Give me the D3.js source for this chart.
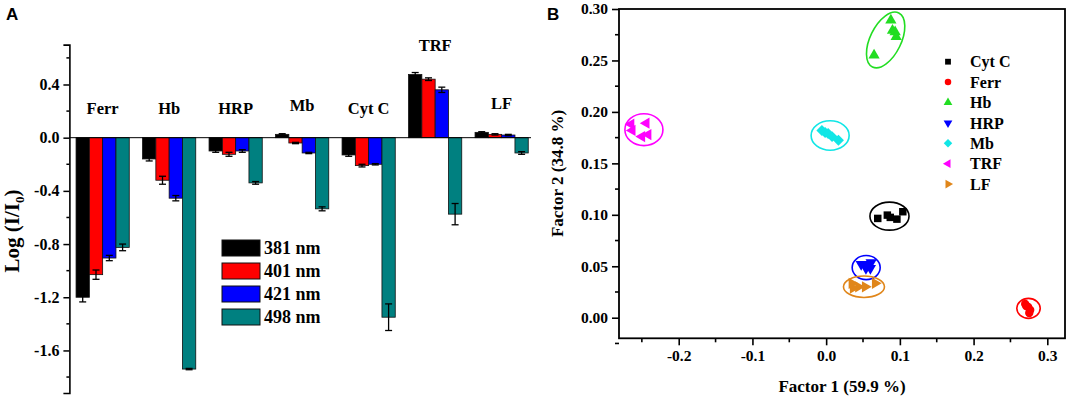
<!DOCTYPE html>
<html>
<head>
<meta charset="utf-8">
<script src="https://cdn.jsdelivr.net/npm/d3@7/dist/d3.min.js"></script>
<style>
html,body{margin:0;padding:0;background:#fff;}
svg{display:block;}
.serif{font-family:"Liberation Serif","Times New Roman",serif;font-weight:bold;}
</style>
</head>
<body>
<svg id="chart" width="1067" height="396"></svg>
<script>
// ---------- Panel A data ----------
const proteins = ["Ferr", "Hb", "HRP", "Mb", "Cyt C", "TRF", "LF"];
const wavelengths = ["381 nm", "401 nm", "421 nm", "498 nm"];
const barColors = ["#000000", "#ff0000", "#0000ff", "#008080"];
const val381 = [-1.20, -0.16, -0.10, 0.025, -0.13, 0.475, 0.04];
const val401 = [-1.03, -0.32, -0.125, -0.04, -0.21, 0.44, 0.025];
const val421 = [-0.905, -0.455, -0.10, -0.115, -0.20, 0.36, 0.02];
const val498 = [-0.825, -1.74, -0.34, -0.535, -1.35, -0.575, -0.115];
const err381 = [0.035, 0.015, 0.01, 0.005, 0.01, 0.015, 0.005];
const err401 = [0.035, 0.03, 0.015, 0.005, 0.01, 0.01, 0.005];
const err421 = [0.02, 0.02, 0.01, 0.005, 0.005, 0.02, 0.005];
const err498 = [0.025, 0.005, 0.01, 0.015, 0.10, 0.08, 0.01];
const yTicksA = [-1.6, -1.2, -0.8, -0.4, 0.0, 0.4];

// ---------- Panel B data ----------
const groupsB = ["Cyt C", "Ferr", "Hb", "HRP", "Mb", "TRF", "LF"];
const colorsB = ["#000000", "#ff0000", "#22dd22", "#0000ff", "#11e6e6", "#ff00ff", "#e0861a"];
const factor1 = {
  "Cyt C": [0.070, 0.083, 0.087, 0.096, 0.104],
  "Ferr":  [0.270, 0.274, 0.2768, 0.2755, 0.2714],
  "Hb":    [0.0878, 0.090, 0.0936, 0.095, 0.065],
  "HRP":   [0.0475, 0.054, 0.061, 0.054, 0.060],
  "Mb":    [-0.0058, -0.0014, 0.0027, 0.008, 0.0167],
  "TRF":   [-0.2646, -0.263, -0.244, -0.250, -0.2415],
  "LF":    [0.0349, 0.0438, 0.053, 0.0665, 0.0366]
};
const factor2 = {
  "Cyt C": [0.0965, 0.0997, 0.0975, 0.0958, 0.103],
  "Ferr":  [0.0133, 0.0104, 0.0075, 0.0046, 0.0114],
  "Hb":    [0.289, 0.279, 0.2777, 0.273, 0.255],
  "HRP":   [0.052, 0.052, 0.0536, 0.048, 0.048],
  "Mb":    [0.182, 0.180, 0.179, 0.176, 0.1725],
  "TRF":   [0.188, 0.182, 0.189, 0.176, 0.178],
  "LF":    [0.0334, 0.030, 0.030, 0.0334, 0.0288]
};
// confidence ellipses: centre (data), semi-axes (data units along x / y), rotation (deg)
const ellCx  = [0.0859, 0.2745, 0.0807, 0.0543, 0.0054, -0.2472, 0.0513];
const ellCy  = [0.0987, 0.0091, 0.2699, 0.0487, 0.1771, 0.1827, 0.0301];
const ellRx  = [0.0265, 0.0159, 0.021, 0.019, 0.0258, 0.0258, 0.0278];
const ellRy  = [0.0136, 0.0097, 0.0292, 0.0117, 0.0143, 0.0155, 0.0104];
const ellRot = [0, 0, 26, 0, 0, 0, 0];
const xTicksB = [-0.2, -0.1, 0.0, 0.1, 0.2, 0.3];
const yTicksB = [0.00, 0.05, 0.10, 0.15, 0.20, 0.25, 0.30];

const svg = d3.select("#chart");
const hyph = f => d => f(d).replace("\u2212", "-");

// ===================== Panel A =====================
const seriesVals = [val381, val401, val421, val498];
const seriesErrs = [err381, err401, err421, err498];

const xA = d3.scaleBand().domain(proteins).range([69.4, 534.9]).paddingInner(0.2).paddingOuter(0.1);
const xSub = d3.scaleBand().domain(wavelengths).range([0, xA.bandwidth()]);
const yA = d3.scaleLinear().domain([-1.92, 0.7]).range([393, 44.6]);

const gA = svg.append("g");

const barData = [];
proteins.forEach((p, i) => {
  wavelengths.forEach((w, j) => {
    barData.push({p, w, j, v: seriesVals[j][i], e: seriesErrs[j][i]});
  });
});
gA.selectAll("rect.bar").data(barData).join("rect")
  .attr("class", "bar")
  .attr("x", d => xA(d.p) + xSub(d.w))
  .attr("width", xSub.bandwidth())
  .attr("y", d => yA(Math.max(0, d.v)))
  .attr("height", d => Math.abs(yA(d.v) - yA(0)))
  .attr("fill", d => barColors[d.j])
  .attr("stroke", "#111")
  .attr("stroke-width", 0.8);

const eb = gA.selectAll("g.err").data(barData).join("g").attr("class", "err")
  .attr("stroke", "#000").attr("stroke-width", 1.3);
const cx = d => xA(d.p) + xSub(d.w) + xSub.bandwidth() / 2;
eb.append("line").attr("x1", cx).attr("x2", cx)
  .attr("y1", d => yA(d.v + d.e)).attr("y2", d => yA(d.v - d.e));
eb.append("line").attr("x1", d => cx(d) - 3.5).attr("x2", d => cx(d) + 3.5)
  .attr("y1", d => yA(d.v + d.e)).attr("y2", d => yA(d.v + d.e));
eb.append("line").attr("x1", d => cx(d) - 3.5).attr("x2", d => cx(d) + 3.5)
  .attr("y1", d => yA(d.v - d.e)).attr("y2", d => yA(d.v - d.e));

gA.append("line").attr("x1", 69.4).attr("x2", 531).attr("y1", yA(0)).attr("y2", yA(0))
  .attr("stroke", "#000").attr("stroke-width", 1);

const axA = d3.axisLeft(yA).tickValues(yTicksA).tickSize(6).tickFormat(hyph(d3.format(".1f")));
const gAxA = gA.append("g").attr("transform", "translate(69.4,0)").call(axA);
gAxA.select(".domain").attr("stroke-width", 1.6);
gAxA.selectAll(".tick line").attr("stroke-width", 1.5);
gAxA.selectAll(".tick text").attr("class", "serif").attr("font-size", 16).attr("fill", "#000").attr("x", -10);
const minorA = d3.range(-1.8, 0.7, 0.4);
gAxA.selectAll("line.minor").data(minorA).join("line").attr("class", "minor")
  .attr("x1", -3).attr("x2", 0).attr("y1", d => yA(d)).attr("y2", d => yA(d))
  .attr("stroke", "#000").attr("stroke-width", 1.5);

gA.selectAll("text.glab").data(proteins).join("text").attr("class", "serif glab")
  .attr("x", d => xA(d) + xA.bandwidth() / 2)
  .attr("y", (d, i) => yA(Math.max(0, d3.max(seriesVals, s => s[i])) + 0.22))
  .attr("dy", "0.35em")
  .attr("text-anchor", "middle").attr("font-size", 16.5).text(d => d);

const tA = gA.append("text").attr("class", "serif").attr("font-size", 21)
  .attr("transform", "translate(19,231) rotate(-90)").attr("text-anchor", "middle");
tA.append("tspan").text("Log (I/I");
tA.append("tspan").attr("font-size", 13).attr("dy", 5).text("0");
tA.append("tspan").attr("dy", -5).text(")");

const legA = gA.append("g");
wavelengths.forEach((w, j) => {
  legA.append("rect").attr("x", 222).attr("y", 240 + j * 23).attr("width", 38).attr("height", 16)
    .attr("fill", barColors[j]).attr("stroke", "#111").attr("stroke-width", 1);
  legA.append("text").attr("class", "serif").attr("x", 264).attr("y", 248 + j * 23)
    .attr("dy", "0.35em").attr("font-size", 18).text(w);
});

svg.append("text").attr("x", 6).attr("y", 20).attr("font-family", "Liberation Sans, Arial, sans-serif")
  .attr("font-weight", "bold").attr("font-size", 17).text("A");
svg.append("text").attr("x", 547).attr("y", 20).attr("font-family", "Liberation Sans, Arial, sans-serif")
  .attr("font-weight", "bold").attr("font-size", 17).text("B");

// ===================== Panel B =====================
const xB = d3.scaleLinear().domain([-0.281, 0.324]).range([619, 1065]);
const yB = d3.scaleLinear().domain([-0.02, 0.30]).range([338.3, 9]);
const gB = svg.append("g");

gB.append("rect").attr("x", 619).attr("y", 9).attr("width", 1065 - 619).attr("height", 338.3 - 9)
  .attr("fill", "none").attr("stroke", "#000").attr("stroke-width", 1.8);

const axBx = d3.axisBottom(xB).tickValues(xTicksB).tickSize(7).tickFormat(hyph(d3.format(".1f")));
const gBx = gB.append("g").attr("transform", "translate(0,338.3)").call(axBx);
gBx.select(".domain").remove();
gBx.selectAll(".tick line").attr("stroke-width", 1.6);
gBx.selectAll(".tick text").attr("class", "serif").attr("font-size", 15.5).attr("fill", "#000").attr("y", 12);
gBx.selectAll("line.minor").data([-0.25, -0.15, -0.05, 0.05, 0.15, 0.25]).join("line").attr("class", "minor")
  .attr("x1", d => xB(d)).attr("x2", d => xB(d)).attr("y1", 0).attr("y2", 4)
  .attr("stroke", "#000").attr("stroke-width", 1.6);

const axBy = d3.axisLeft(yB).tickValues(yTicksB).tickSize(7).tickFormat(hyph(d3.format(".2f")));
const gBy = gB.append("g").attr("transform", "translate(619,0)").call(axBy);
gBy.select(".domain").remove();
gBy.selectAll(".tick line").attr("stroke-width", 1.6);
gBy.selectAll(".tick text").attr("class", "serif").attr("font-size", 15.5).attr("fill", "#000").attr("x", -11);
gBy.selectAll("line.minor").data([-0.025, 0.025, 0.075, 0.125, 0.175, 0.225, 0.275]).join("line").attr("class", "minor")
  .attr("x1", -4).attr("x2", 0).attr("y1", d => yB(d)).attr("y2", d => yB(d))
  .attr("stroke", "#000").attr("stroke-width", 1.6);

gB.append("text").attr("class", "serif").attr("font-size", 17).attr("text-anchor", "middle")
  .attr("x", 842).attr("y", 392).text("Factor 1 (59.9 %)");
gB.append("text").attr("class", "serif").attr("font-size", 17).attr("text-anchor", "middle")
  .attr("transform", "translate(563,173.5) rotate(-90)").text("Factor 2 (34.8 %)");

const symTypes = [
  {t: d3.symbolSquare, r: 0, s: 56},
  {t: d3.symbolCircle, r: 0, s: 55},
  {t: d3.symbolTriangle, r: 0, s: 55},
  {t: d3.symbolTriangle, r: 180, s: 55},
  {t: d3.symbolSquare, r: 45, s: 60},
  {t: d3.symbolTriangle, r: -90, s: 55},
  {t: d3.symbolTriangle, r: 90, s: 55}
];

gB.selectAll("ellipse").data(groupsB).join("ellipse")
  .attr("transform", (d, i) => `translate(${xB(ellCx[i])},${yB(ellCy[i])}) rotate(${ellRot[i]})`)
  .attr("rx", (d, i) => xB(ellRx[i]) - xB(0))
  .attr("ry", (d, i) => yB(0) - yB(ellRy[i]))
  .attr("fill", "none").attr("stroke", (d, i) => colorsB[i]).attr("stroke-width", 1.6);

const ptData = [];
groupsB.forEach((g, i) => factor1[g].forEach((x, k) => ptData.push({g, i, x, y: factor2[g][k]})));
gB.selectAll("path.pt").data(ptData).join("path").attr("class", "pt")
  .attr("d", d => d3.symbol().type(symTypes[d.i].t).size(symTypes[d.i].s)())
  .attr("transform", d => `translate(${xB(d.x)},${yB(d.y)}) rotate(${symTypes[d.i].r})`)
  .attr("fill", d => colorsB[d.i]);

groupsB.forEach((g, i) => {
  gB.append("path").attr("d", d3.symbol().type(symTypes[i].t).size(symTypes[i].s * 0.6)())
    .attr("transform", `translate(948,${61.7 + i * 20.4}) rotate(${symTypes[i].r})`)
    .attr("fill", colorsB[i]);
  gB.append("text").attr("class", "serif").attr("font-size", 16).attr("x", 970)
    .attr("y", 61.7 + i * 20.4).attr("dy", "0.35em").text(g);
});
</script>
</body>
</html>
